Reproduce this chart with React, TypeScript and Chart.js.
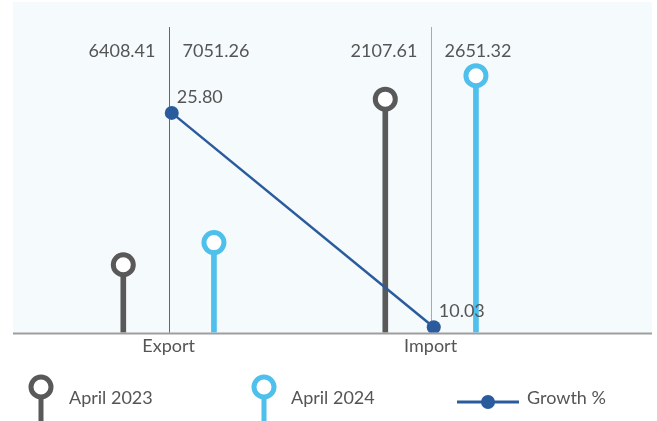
import React, { useEffect, useRef } from 'react';
import { Chart, registerables } from 'chart.js';

Chart.register(...registerables);

const categories = ['Export', 'Import'];
const april2023Values = [6408.41, 2107.61];
const april2024Values = [7051.26, 2651.32];
const growthValues = [25.8, 10.03];
// stem heights as drawn in the reference (relative index, 0-100)
const april2023Levels = [20.5, 70.6];
const april2024Levels = [27.2, 77.7];

const COLOR_2023 = '#595959';
const COLOR_2024 = '#4fbfec';
const COLOR_GROWTH = '#2a5b9c';
const TEXT = '#555555';
const FONT = 'Lato, "Open Sans", sans-serif';
const SERIES_OFFSET = 0.173;
const GROWTH_OFFSET = 0.012;

function drawLollipopIcon(ctx: CanvasRenderingContext2D, x: number, y: number, color: string, bottom: number) {
  ctx.fillStyle = color;
  ctx.fillRect(x - 2.5, y, 5, bottom - y);
  ctx.beginPath();
  ctx.arc(x, y, 10, 0, Math.PI * 2);
  ctx.fillStyle = '#ffffff';
  ctx.fill();
  ctx.lineWidth = 5;
  ctx.strokeStyle = color;
  ctx.stroke();
}

const decorPlugin = {
  id: 'decor',
  beforeDraw(chart: any) {
    const { ctx, chartArea: a } = chart;
    ctx.save();
    ctx.fillStyle = '#f5fafd';
    ctx.fillRect(a.left, a.top, a.right - a.left, a.bottom - a.top);
    ctx.restore();
  },
  beforeDatasetsDraw(chart: any) {
    const { ctx, chartArea: a, scales } = chart;
    const x = scales.x;
    ctx.save();
    // axis line
    ctx.strokeStyle = '#9e9e9e';
    ctx.lineWidth = 2;
    ctx.beginPath();
    ctx.moveTo(a.left, a.bottom + 1);
    ctx.lineTo(a.right, a.bottom + 1);
    ctx.stroke();
    categories.forEach((_c, i) => {
      const px = Math.round(x.getPixelForValue(i)) + 0.5;
      ctx.strokeStyle = i === 0 ? '#666666' : '#aaaaaa';
      ctx.lineWidth = 1;
      ctx.beginPath();
      ctx.moveTo(px, a.top + 25);
      ctx.lineTo(px, a.bottom);
      ctx.stroke();
      ctx.font = `18px ${FONT}`;
      ctx.fillStyle = TEXT;
      ctx.textBaseline = 'alphabetic';
      ctx.textAlign = 'right';
      ctx.fillText(april2023Values[i].toFixed(2), px - 14, a.top + 55);
      ctx.textAlign = 'left';
      ctx.fillText(april2024Values[i].toFixed(2), px + 13, a.top + 55);
    });
    ctx.restore();
  },
  afterDatasetsDraw(chart: any) {
    const { ctx } = chart;
    const meta = chart.getDatasetMeta(4);
    ctx.save();
    ctx.font = `18px ${FONT}`;
    ctx.fillStyle = TEXT;
    ctx.textAlign = 'left';
    ctx.textBaseline = 'alphabetic';
    meta.data.forEach((pt: any, i: number) => {
      ctx.fillText(growthValues[i].toFixed(2), pt.x + 5, pt.y - 10);
    });
    ctx.restore();
  },
  afterDraw(chart: any) {
    const { ctx, height } = chart;
    ctx.save();
    drawLollipopIcon(ctx, 41, 387, COLOR_2023, height);
    drawLollipopIcon(ctx, 264, 387, COLOR_2024, height);
    ctx.strokeStyle = COLOR_GROWTH;
    ctx.lineWidth = 3;
    ctx.beginPath();
    ctx.moveTo(457, 402);
    ctx.lineTo(519, 402);
    ctx.stroke();
    ctx.beginPath();
    ctx.arc(488, 402, 7, 0, Math.PI * 2);
    ctx.fillStyle = COLOR_GROWTH;
    ctx.fill();
    ctx.font = `18px ${FONT}`;
    ctx.fillStyle = TEXT;
    ctx.textAlign = 'left';
    ctx.textBaseline = 'alphabetic';
    ctx.fillText('April 2023', 69, 404);
    ctx.fillText('April 2024', 291, 404);
    ctx.fillText('Growth %', 527, 404);
    ctx.restore();
  },
};

export default function App() {
  const ref = useRef<HTMLCanvasElement | null>(null);
  useEffect(() => {
    document.body.style.margin = '0';
    if (!ref.current) return;
    const points = (levels: number[], off: number) =>
      levels.map((v, i) => ({ x: i + off, y: v }));
    const chart = new Chart(ref.current, {
      type: 'line',
      data: {
        datasets: [
          {
            type: 'bar',
            label: 'April 2023',
            data: points(april2023Levels, -SERIES_OFFSET),
            backgroundColor: COLOR_2023,
            barThickness: 5,
            grouped: false,
            yAxisID: 'yL',
            order: 3,
          } as any,
          {
            type: 'bar',
            label: 'April 2024',
            data: points(april2024Levels, SERIES_OFFSET),
            backgroundColor: COLOR_2024,
            barThickness: 5,
            grouped: false,
            yAxisID: 'yL',
            order: 3,
          } as any,
          {
            type: 'line',
            label: 'April 2023 head',
            data: points(april2023Levels, -SERIES_OFFSET),
            showLine: false,
            pointRadius: 10,
            pointBorderWidth: 5,
            pointBorderColor: COLOR_2023,
            pointBackgroundColor: '#ffffff',
            yAxisID: 'yL',
            order: 2,
          } as any,
          {
            type: 'line',
            label: 'April 2024 head',
            data: points(april2024Levels, SERIES_OFFSET),
            showLine: false,
            pointRadius: 10,
            pointBorderWidth: 5,
            pointBorderColor: COLOR_2024,
            pointBackgroundColor: '#ffffff',
            yAxisID: 'yL',
            order: 2,
          } as any,
          {
            type: 'line',
            label: 'Growth %',
            data: growthValues.map((v, i) => ({ x: i + GROWTH_OFFSET, y: v })),
            showLine: true,
            borderColor: COLOR_GROWTH,
            borderWidth: 2.5,
            pointRadius: 7,
            pointBorderWidth: 0,
            pointBackgroundColor: COLOR_GROWTH,
            yAxisID: 'yG',
            order: 1,
          } as any,
        ],
      },
      options: {
        animation: false,
        responsive: true,
        maintainAspectRatio: false,
        events: [],
        layout: { autoPadding: false, padding: { left: 13, right: 5, top: 2, bottom: 60.9 } },
        plugins: { legend: { display: false }, tooltip: { enabled: false } },
        scales: {
          x: {
            type: 'linear',
            min: -0.594,
            max: 1.845,
            offset: false,
            grid: { display: false, drawTicks: false },
            border: { display: false },
            afterBuildTicks: (scale: any) => {
              scale.ticks = categories.map((_c, i) => ({ value: i }));
            },
            ticks: {
              autoSkip: false,
              maxRotation: 0,
              padding: 3,
              color: TEXT,
              font: { family: FONT, size: 18 },
              callback: (v: any) => categories[Math.round(Number(v))] ?? '',
            },
          },
          yL: { type: 'linear', display: false, min: 0, max: 100 },
          yG: { type: 'linear', display: false, min: 9.64, max: 33.96 },
        },
      } as any,
      plugins: [decorPlugin],
    });
    return () => chart.destroy();
  }, []);
  return (
    <div style={{ position: 'relative', width: 657, height: 421 }}>
      <canvas ref={ref} />
    </div>
  );
}
